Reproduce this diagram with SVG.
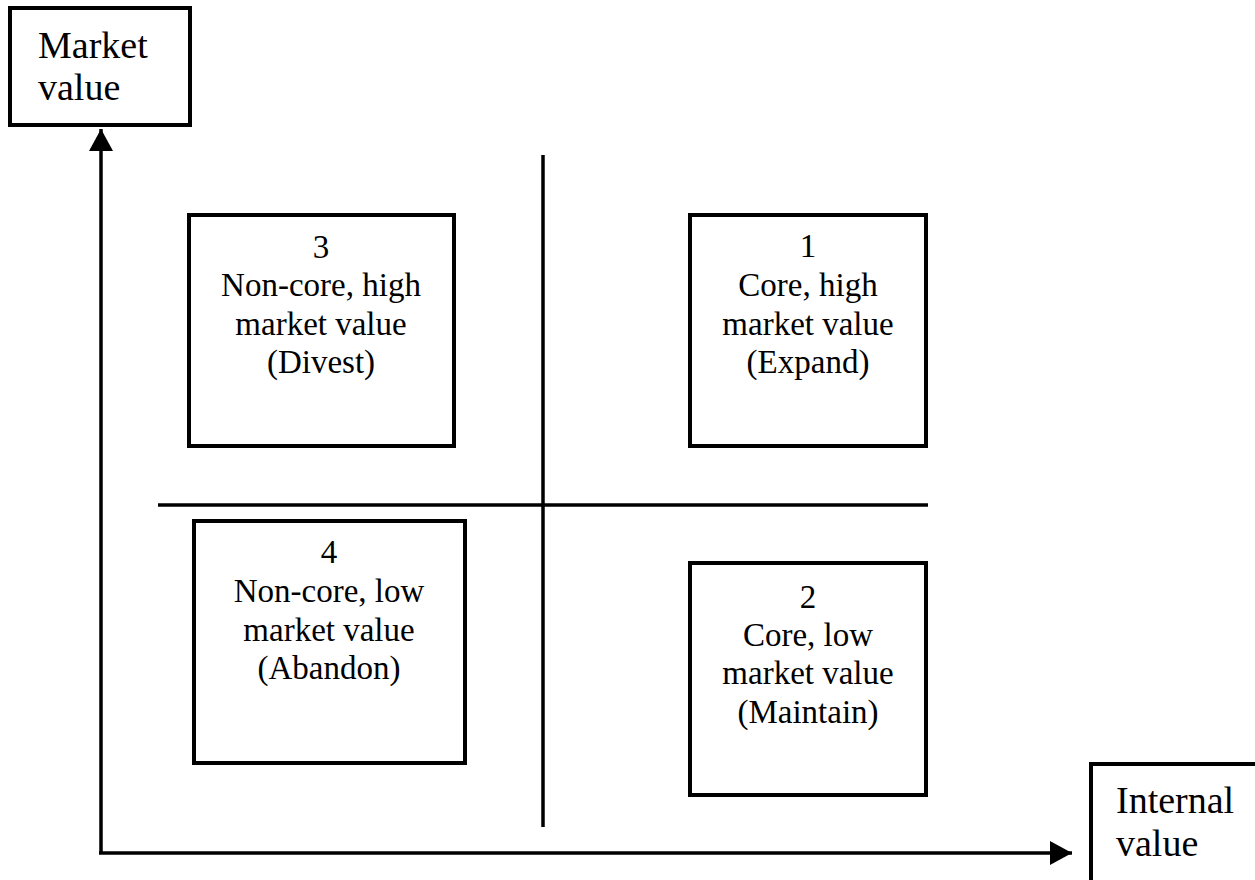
<svg xmlns="http://www.w3.org/2000/svg" width="1255" height="880" viewBox="0 0 1255 880">
<style>
.box{fill:#fff;stroke:#000;stroke-width:4}
.ln{stroke:#000;stroke-width:3.5;fill:none}
.t{font-family:"Liberation Serif","Times New Roman",serif;font-size:33px;fill:#000;text-anchor:middle}
.ax{font-family:"Liberation Serif","Times New Roman",serif;font-size:38px;fill:#000}
</style>
<defs>
<marker id="arr" viewBox="0 0 22 24" refX="22" refY="12" markerWidth="22" markerHeight="24" markerUnits="userSpaceOnUse" orient="auto">
<path d="M0,0 L22,12 L0,24 Z" fill="#000"/>
</marker>
</defs>
<rect width="1255" height="880" fill="#fff"/>
<g id="connectors">
<path class="ln" d="M101,853 L101,129" marker-end="url(#arr)"/>
<path class="ln" d="M99,853 L1072,853" marker-end="url(#arr)"/>
<line class="ln" x1="543" y1="155" x2="543" y2="827"/>
<line class="ln" x1="158" y1="505" x2="928" y2="505"/>
</g>
<g id="market-value">
<rect class="box" x="10" y="8" width="180" height="117"/>
<text class="ax" x="38" y="58">Market</text>
<text class="ax" x="38" y="100">value</text>
</g>
<g id="internal-value">
<rect class="box" x="1091" y="764" width="180" height="130"/>
<text class="ax" x="1116" y="813">Internal</text>
<text class="ax" x="1116" y="856">value</text>
</g>
<g id="q3">
<rect class="box" x="189" y="215" width="265" height="231"/>
<text class="t" x="321" y="258">3</text>
<text class="t" x="321" y="296">Non-core, high</text>
<text class="t" x="321" y="335">market value</text>
<text class="t" x="321" y="373">(Divest)</text>
</g>
<g id="q1">
<rect class="box" x="690" y="215" width="236" height="231"/>
<text class="t" x="808" y="257">1</text>
<text class="t" x="808" y="296">Core, high</text>
<text class="t" x="808" y="335">market value</text>
<text class="t" x="808" y="373">(Expand)</text>
</g>
<g id="q4">
<rect class="box" x="194" y="521" width="271" height="242"/>
<text class="t" x="329" y="563">4</text>
<text class="t" x="329" y="602">Non-core, low</text>
<text class="t" x="329" y="641">market value</text>
<text class="t" x="329" y="679">(Abandon)</text>
</g>
<g id="q2">
<rect class="box" x="690" y="563" width="236" height="232"/>
<text class="t" x="808" y="608">2</text>
<text class="t" x="808" y="646">Core, low</text>
<text class="t" x="808" y="684">market value</text>
<text class="t" x="808" y="723">(Maintain)</text>
</g>
</svg>
